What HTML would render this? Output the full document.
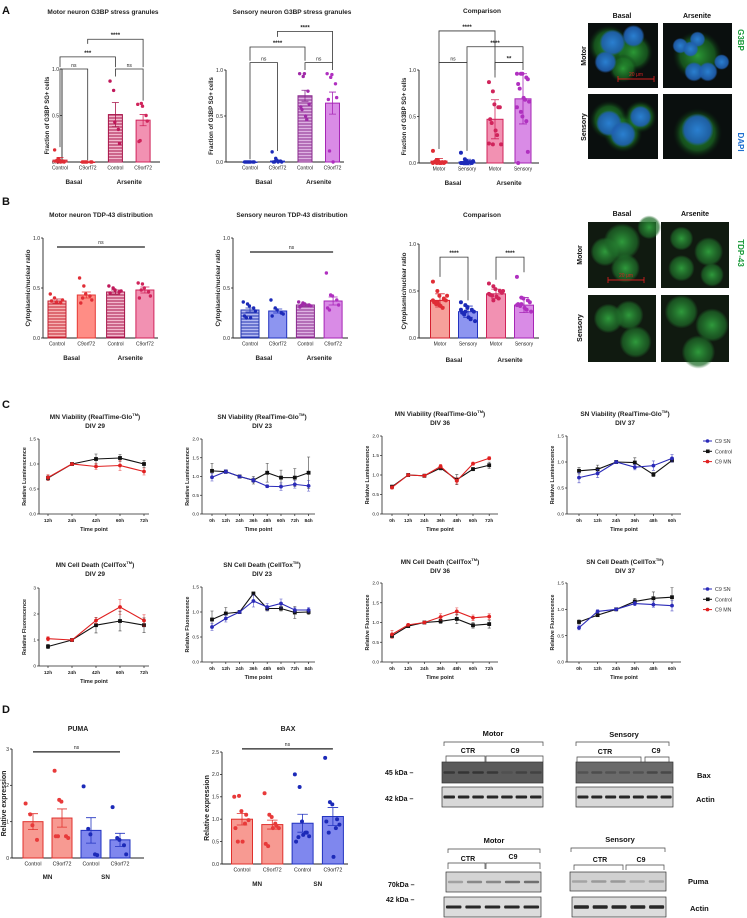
<!DOCTYPE html>
<html><head><meta charset="utf-8"><style>
html,body{margin:0;padding:0;background:#fff;}
svg{display:block;font-family:"Liberation Sans",sans-serif;}
</style></head><body>
<svg id="fig" width="747" height="918" viewBox="0 0 747 918" xmlns="http://www.w3.org/2000/svg">
<defs>
<pattern id="h-red" width="4" height="3" patternUnits="userSpaceOnUse"><rect width="4" height="3" fill="#f6b2b2"/><line x1="0" y1="1" x2="4" y2="1" stroke="#c62030" stroke-width="1"/></pattern>
<pattern id="h-mag" width="4" height="3" patternUnits="userSpaceOnUse"><rect width="4" height="3" fill="#f2b7cc"/><line x1="0" y1="1" x2="4" y2="1" stroke="#a8154a" stroke-width="1"/></pattern>
<pattern id="h-blue" width="4" height="3" patternUnits="userSpaceOnUse"><rect width="4" height="3" fill="#b4baf2"/><line x1="0" y1="1" x2="4" y2="1" stroke="#2233b0" stroke-width="1"/></pattern>
<pattern id="h-pur" width="4" height="3" patternUnits="userSpaceOnUse"><rect width="4" height="3" fill="#ddb2e2"/><line x1="0" y1="1" x2="4" y2="1" stroke="#8a2a8e" stroke-width="1"/></pattern>
<radialGradient id="g-green"><stop offset="0" stop-color="#2fa83a" stop-opacity="0.9"/><stop offset="0.7" stop-color="#1d7a26" stop-opacity="0.6"/><stop offset="1" stop-color="#0a2a10" stop-opacity="0"/></radialGradient>
<radialGradient id="g-blue"><stop offset="0" stop-color="#2a7fd0"/><stop offset="0.8" stop-color="#1f5fb0" stop-opacity="0.9"/><stop offset="1" stop-color="#1f5fb0" stop-opacity="0"/></radialGradient>
<radialGradient id="g-tdp"><stop offset="0" stop-color="#2f9a3c"/><stop offset="0.8" stop-color="#1e6a28" stop-opacity="0.7"/><stop offset="1" stop-color="#1e6a28" stop-opacity="0"/></radialGradient>
</defs>
</svg>
<script>
// ---------- DATA ----------
const catCtrlC9 = ["Control","C9orf72","Control","C9orf72"];
const catMotorSensory = ["Motor","Sensory","Motor","Sensory"];
const groupBA = ["Basal","Arsenite"];
const groupMNSN = ["MN","SN"];

const a1Means = [0.02, 0.0, 0.51, 0.45];
const a1Errs = [0.03, 0.0, 0.13, 0.06];
const a1Pts0 = [0.13,0.03,0.02,0.01,0.0,0.01,0.02,0.0];
const a1Pts1 = [0,0,0,0,0,0,0];
const a1Pts2 = [0.87,0.77,0.43,0.35,0.2];
const a1Pts3 = [0.62,0.63,0.6,0.5,0.44,0.22,0.23];

const a2Means = [0.0, 0.01, 0.72, 0.64];
const a2Errs = [0.0, 0.01, 0.06, 0.12];
const a2Pts0 = [0,0,0,0,0,0,0,0];
const a2Pts1 = [0.11,0.04,0.02,0.01,0,0,0,0];
const a2Pts2 = [0.96,0.93,0.96,0.77,0.63,0.6,0.57,0.5,0.46];
const a2Pts3 = [0.96,0.92,0.95,0.85,0.7,0.68,0.12,0.0];

const a3Means = [0.02, 0.01, 0.47, 0.69];
const a3Errs = [0.03, 0.03, 0.21, 0.27];
const a3Pts0 = [0.13,0.03,0.02,0.01,0,0.01,0.02,0,0,0.01,0,0];
const a3Pts1 = [0.11,0.04,0.02,0.01,0,0,0,0,0.01,0.02,0,0];
const a3Pts2 = [0.87,0.77,0.63,0.6,0.6,0.47,0.43,0.35,0.3,0.2,0.21,0.2];
const a3Pts3 = [0.96,0.96,0.96,0.92,0.9,0.85,0.8,0.7,0.68,0.66,0.6,0.55,0.5,0.45,0.12,0.0];

const b1Means = [0.37, 0.43, 0.46, 0.48];
const b1Errs = [0.02, 0.03, 0.02, 0.03];
const b1Pts0 = [0.44,0.4,0.36,0.35,0.38,0.37];
const b1Pts1 = [0.6,0.52,0.44,0.42,0.38,0.35,0.4];
const b1Pts2 = [0.52,0.5,0.48,0.46,0.47,0.45];
const b1Pts3 = [0.55,0.54,0.5,0.46,0.42,0.4,0.48];

const b2Means = [0.28, 0.27, 0.33, 0.37];
const b2Errs = [0.02, 0.02, 0.01, 0.04];
const b2Pts0 = [0.36,0.34,0.32,0.3,0.27,0.22,0.2,0.2];
const b2Pts1 = [0.38,0.3,0.28,0.25,0.24,0.22];
const b2Pts2 = [0.36,0.35,0.34,0.33,0.32,0.31,0.33];
const b2Pts3 = [0.65,0.43,0.42,0.38,0.33,0.3,0.28];

const b3Means = [0.40, 0.28, 0.47, 0.35];
const b3Errs = [0.07, 0.06, 0.05, 0.08];
const b3Pts0 = [0.6,0.5,0.45,0.42,0.4,0.38,0.36,0.34,0.32,0.45,0.4,0.38,0.35,0.41];
const b3Pts1 = [0.38,0.35,0.32,0.3,0.28,0.27,0.25,0.22,0.2,0.18,0.3,0.28,0.33];
const b3Pts2 = [0.58,0.55,0.52,0.5,0.48,0.46,0.45,0.44,0.42,0.5,0.47,0.4];
const b3Pts3 = [0.65,0.43,0.42,0.4,0.38,0.36,0.34,0.32,0.3,0.28,0.35,0.36];

const dPumaMeans = [1.0, 1.1, 0.76, 0.5];
const dPumaErrs = [0.22, 0.25, 0.35, 0.18];
const dPumaPts0 = [1.5,1.2,0.9,0.5];
const dPumaPts1 = [2.4,1.6,1.55,0.6,0.55,0.6,0.6];
const dPumaPts2 = [1.97,0.8,0.65,0.1,0.08];
const dPumaPts3 = [1.4,0.55,0.5,0.35,0.1];

const dBaxMeans = [1.0, 0.88, 0.91, 1.06];
const dBaxErrs = [0.13, 0.1, 0.2, 0.2];
const dBaxPts0 = [1.5,1.52,1.18,1.1,0.98,0.8,0.5,0.5,0.9];
const dBaxPts1 = [1.58,1.1,1.05,0.85,0.8,0.45,0.4,0.8,0.9];
const dBaxPts2 = [2.0,1.72,0.95,0.7,0.62,0.5,0.6,0.65,0.7];
const dBaxPts3 = [2.37,1.38,1.33,1.0,0.88,0.95,0.7,0.16,0.8];

const tMN29 = ["12h","24h","42h","60h","72h"];
const tSN23 = ["0h","12h","24h","36h","48h","60h","72h","84h"];
const tMN36 = ["0h","12h","24h","36h","48h","60h","72h"];
const tSN37 = ["0h","12h","24h","36h","48h","60h"];

const c1Ctrl = [0.72,1.0,1.1,1.12,1.0];
const c1CtrlErr = [0.05,0.02,0.1,0.07,0.07];
const c1C9 = [0.73,1.0,0.95,0.97,0.85];
const c1C9Err = [0.06,0.02,0.06,0.1,0.07];

const c2Ctrl = [1.15,1.13,1.0,0.9,1.1,0.97,0.97,1.1];
const c2CtrlErr = [0.2,0.05,0.02,0.1,0.25,0.2,0.24,0.42];
const c2SN = [0.98,1.13,1.0,0.9,0.74,0.73,0.79,0.75];
const c2SNErr = [0.1,0.05,0.02,0.06,0.04,0.1,0.1,0.14];

const c3Ctrl = [0.7,1.0,0.98,1.18,0.88,1.15,1.25];
const c3CtrlErr = [0.04,0.02,0.04,0.05,0.13,0.04,0.08];
const c3C9 = [0.68,1.0,0.98,1.22,0.85,1.29,1.43];
const c3C9Err = [0.04,0.02,0.03,0.05,0.08,0.04,0.04];

const c4Ctrl = [0.83,0.86,1.0,0.99,0.76,1.03];
const c4CtrlErr = [0.06,0.08,0.02,0.09,0.04,0.03];
const c4SN = [0.7,0.78,1.0,0.9,0.93,1.07];
const c4SNErr = [0.1,0.08,0.02,0.05,0.09,0.07];

const c5Ctrl = [0.75,1.0,1.57,1.73,1.57];
const c5CtrlErr = [0.08,0.03,0.3,0.38,0.28];
const c5C9 = [1.05,1.0,1.75,2.27,1.75];
const c5C9Err = [0.08,0.03,0.12,0.28,0.22];

const c6Ctrl = [0.85,0.97,1.0,1.37,1.07,1.07,0.99,1.0];
const c6CtrlErr = [0.17,0.12,0.02,0.03,0.05,0.05,0.12,0.05];
const c6SN = [0.7,0.87,1.0,1.22,1.1,1.17,1.04,1.04];
const c6SNErr = [0.07,0.07,0.02,0.12,0.07,0.09,0.05,0.05];

const c7Ctrl = [0.66,0.91,1.0,1.03,1.09,0.93,0.96];
const c7CtrlErr = [0.04,0.03,0.02,0.05,0.12,0.07,0.1];
const c7C9 = [0.7,0.94,1.0,1.14,1.28,1.12,1.15];
const c7C9Err = [0.1,0.03,0.02,0.08,0.09,0.07,0.07];

const c8Ctrl = [0.76,0.89,1.0,1.15,1.21,1.23];
const c8CtrlErr = [0.04,0.02,0.02,0.06,0.12,0.18];
const c8SN = [0.65,0.96,1.0,1.11,1.09,1.07];
const c8SNErr = [0.04,0.03,0.02,0.04,0.05,0.1];

// ---------- HELPERS ----------
const NS = "http://www.w3.org/2000/svg";
const svg = document.getElementById('fig');
function mk(tag, attrs, parent){
  const e = document.createElementNS(NS, tag);
  for (const k in attrs) e.setAttribute(k, attrs[k]);
  (parent || svg).appendChild(e);
  return e;
}
function tx(x, y, s, size, opt, parent){
  opt = opt || {};
  const e = mk('text', {x:x, y:y, 'font-size':size, 'text-anchor':opt.anchor||'middle', fill:opt.fill||'#222', 'font-weight':opt.bold?'bold':'normal'}, parent);
  if (opt.rot) e.setAttribute('transform', 'rotate(' + opt.rot + ' ' + x + ' ' + y + ')');
  e.textContent = s;
  return e;
}
function grp(name){
  const g = mk('g', {});
  
  
  return g;
}

function barChart(name, ax, means, errs, pts, style, labels, groups, brackets, lines){
  const g = grp(name);
  const ys = v => ax.yBot - v / ax.ymax * (ax.yBot - ax.yTop);
  const xc = i => ax.x + ax.first + i * ax.spacing;
  const t = tx(ax.titleX, ax.titleY, ax.title, ax.titleSize || 6.5, {bold:true}, g);
  
  
  const ya = mk('line', {x1:ax.x, y1:ax.yTop, x2:ax.x, y2:ax.yBot, stroke:'#222', 'stroke-width':0.9}, g);
  
  
  const xa = mk('line', {x1:ax.x, y1:ax.yBot, x2:ax.x + ax.len, y2:ax.yBot, stroke:'#222', 'stroke-width':0.9}, g);
  
  
  ax.ticks.forEach((v, k) => {
    mk('line', {x1:ax.x - 2, y1:ys(v), x2:ax.x, y2:ys(v), stroke:'#222', 'stroke-width':0.8}, g);
    const tl = tx(ax.x - 3, ys(v) + 1.8, ax.tickLabels[k], 5, {anchor:'end'}, g);
    
    
  });
  const ylx = ax.ylabelX !== undefined ? ax.ylabelX : ax.x - 13;
  const yt = tx(ylx, (ax.yTop + ax.yBot) / 2, ax.ylabel, ax.ylabelSize || 6, {rot:-90, bold:true}, g);
  
  
  means.forEach((m, i) => {
    const cx = xc(i), st = style[i];
    const b = mk('rect', {x:cx - ax.bw/2, y:ys(m), width:ax.bw, height:Math.max(0.5, ax.yBot - ys(m)), fill:st.fill, stroke:st.stroke, 'stroke-width':1}, g);
    
    
    const e = mk('path', {d:'M'+cx+' '+ys(m - errs[i])+'V'+ys(m + errs[i])+'M'+(cx-ax.bw/4)+' '+ys(m+errs[i])+'H'+(cx+ax.bw/4)+'M'+(cx-ax.bw/4)+' '+ys(m-errs[i])+'H'+(cx+ax.bw/4), stroke:st.err || st.stroke, 'stroke-width':0.8, fill:'none'}, g);
    
    
    pts[i].forEach((v, j) => {
      const off = ((j % 5) - 2) * ax.bw * 0.17 + (j % 2 ? 0.6 : -0.6);
      const p = mk('circle', {cx:cx + off, cy:ys(v), r:ax.pr || 1.7, fill:st.pt}, g);
      
      
    });
    const l = tx(cx, ax.yBot + 7.5, labels[i], ax.catSize || 5, {}, g);
    
    
  });
  groups.forEach((s, k) => {
    const gx = (xc(2*k) + xc(2*k+1)) / 2;
    const gl = tx(gx, ax.yBot + ax.groupDy, s, 6.3, {bold:true}, g);
    
    
  });
  (brackets || []).forEach(bk => {
    const [i, j, top, l1, l2, lab] = bk;
    const br = mk('path', {d:'M'+xc(i)+' '+ys(l1)+'V'+ys(top)+'H'+xc(j)+'V'+ys(l2), stroke:'#333', 'stroke-width':0.8, fill:'none'}, g);
    
    
    const bl = tx((xc(i)+xc(j))/2, ys(top) - 2, lab, lab === 'ns' ? 5 : 6, {bold: lab !== 'ns'}, g);
    
    
  });
  (lines || []).forEach(ln => {
    const [i, j, y, lab] = ln;
    const sl = mk('line', {x1:xc(i), y1:ys(y), x2:xc(j), y2:ys(y), stroke:'#222', 'stroke-width':1.2}, g);
    
    
    const sll = tx((xc(i)+xc(j))/2, ys(y) - 3, lab, 5, {}, g);
    
    
  });
}

function lineChart(name, ax, xlabels, series){
  const g = grp(name);
  const ys = v => ax.yBot - v / ax.ymax * (ax.yBot - ax.yTop);
  const xc = i => ax.x + ax.first + i * ax.spacing;
  const t1 = tx(ax.titleX, ax.titleY, ax.title, 6.5, {bold:true}, g);
  
  
  const sup = mk('tspan', {'font-size':4, dy:-3}, t1); sup.textContent = 'TM';
  const sup2 = mk('tspan', {dy:3}, t1); sup2.textContent = ')';
  const t2 = tx(ax.titleX, ax.titleY + 9, ax.sub, 6.5, {bold:true}, g);
  
  
  const ya = mk('line', {x1:ax.x, y1:ax.yTop, x2:ax.x, y2:ax.yBot, stroke:'#222', 'stroke-width':0.8}, g);
  
  
  const xa = mk('line', {x1:ax.x, y1:ax.yBot, x2:ax.x + ax.len, y2:ax.yBot, stroke:'#222', 'stroke-width':0.8}, g);
  
  
  ax.ticks.forEach((v, k) => {
    mk('line', {x1:ax.x - 2, y1:ys(v), x2:ax.x, y2:ys(v), stroke:'#222', 'stroke-width':0.7}, g);
    const tl = tx(ax.x - 3, ys(v) + 1.7, ax.tickLabels[k], 4.8, {anchor:'end'}, g);
    
    
  });
  xlabels.forEach((s, i) => {
    mk('line', {x1:xc(i), y1:ax.yBot, x2:xc(i), y2:ax.yBot + 2, stroke:'#222', 'stroke-width':0.7}, g);
    const xl = tx(xc(i), ax.yBot + 8, s, 4.8, {bold:true}, g);
    
    
  });
  const xt = tx(ax.x + ax.len/2, ax.yBot + 17, 'Time point', 5.5, {bold:true}, g);
  
  
  const yt = tx(ax.x - 13, (ax.yTop + ax.yBot)/2, ax.ylabel, 5.3, {rot:-90, bold:true}, g);
  
  
  series.forEach(s => {
    const sg = mk('g', {}, g);
    
    
    s.vals.forEach((v, i) => {
      mk('path', {d:'M'+xc(i)+' '+ys(v - s.errs[i])+'V'+ys(v + s.errs[i])+'M'+(xc(i)-1.5)+' '+ys(v+s.errs[i])+'h3M'+(xc(i)-1.5)+' '+ys(v-s.errs[i])+'h3', stroke:s.color, 'stroke-width':0.6, fill:'none', opacity:0.8}, sg);
    });
    const line = mk('polyline', {points:s.vals.map((v, i) => xc(i) + ',' + ys(v)).join(' '), fill:'none', stroke:s.color, 'stroke-width':1.1}, sg);
    
    
    s.vals.forEach((v, i) => {
      let m;
      if (s.marker === 'sq') m = mk('rect', {x:xc(i) - 1.9, y:ys(v) - 1.9, width:3.8, height:3.8, fill:s.color}, sg);
      else m = mk('circle', {cx:xc(i), cy:ys(v), r:1.9, fill:s.color}, sg);
      
      
    });
  });
}

function legend(x, y){
  const g = grp('legend');
  const items = [['C9 SN','#2a2ab8','c'],['Control','#111','s'],['C9 MN','#e02020','c']];
  items.forEach((it, k) => {
    const yy = y + k * 10.3;
    const en = mk('g', {}, g);
    
    
    mk('line', {x1:x, y1:yy, x2:x + 9, y2:yy, stroke:it[1], 'stroke-width':1}, en);
    if (it[2] === 's') mk('rect', {x:x + 3, y:yy - 1.8, width:3.6, height:3.6, fill:it[1]}, en);
    else mk('circle', {cx:x + 4.5, cy:yy, r:1.8, fill:it[1]}, en);
    tx(x + 12, yy + 2, it[0], 5.3, {anchor:'start', fill:'#333'}, en);
  });
}

function micro(name, x, y, w, h, kind){
  const g = grp(name);
  mk('rect', {x:x, y:y, width:w, height:h, fill: kind.startsWith('tdp') ? '#101a10' : '#0a0f0e'}, g);
  const blobs = {
    g1:[[0.3,0.35,0.32,'g-green'],[0.65,0.45,0.3,'g-green'],[0.35,0.3,0.2,'g-blue'],[0.65,0.2,0.17,'g-blue'],[0.5,0.7,0.22,'g-green'],[0.25,0.6,0.17,'g-blue']],
    g2:[[0.5,0.5,0.38,'g-green'],[0.5,0.25,0.12,'g-blue'],[0.25,0.35,0.12,'g-blue'],[0.4,0.4,0.12,'g-blue'],[0.45,0.75,0.15,'g-blue'],[0.65,0.75,0.15,'g-blue'],[0.85,0.6,0.12,'g-blue']],
    g3:[[0.3,0.4,0.3,'g-green'],[0.5,0.6,0.3,'g-green'],[0.75,0.35,0.25,'g-green'],[0.3,0.45,0.2,'g-blue'],[0.5,0.62,0.2,'g-blue'],[0.75,0.35,0.17,'g-blue']],
    g4:[[0.5,0.6,0.38,'g-green'],[0.5,0.55,0.25,'g-blue']],
    tdp1:[[0.55,0.7,0.22,'g-tdp'],[0.25,0.45,0.22,'g-tdp'],[0.9,0.08,0.18,'g-tdp'],[0.5,0.3,0.28,'g-tdp']],
    tdp2:[[0.3,0.25,0.18,'g-tdp'],[0.7,0.45,0.22,'g-tdp'],[0.3,0.7,0.2,'g-tdp'],[0.75,0.8,0.18,'g-tdp']],
    tdp3:[[0.3,0.35,0.22,'g-tdp'],[0.6,0.3,0.22,'g-tdp'],[0.7,0.7,0.24,'g-tdp']],
    tdp4:[[0.3,0.25,0.25,'g-tdp'],[0.75,0.45,0.25,'g-tdp'],[0.55,0.85,0.25,'g-tdp']]
  }[kind];
  blobs.forEach(b => mk('circle', {cx:x + b[0]*w, cy:y + b[1]*h, r:b[2]*Math.min(w,h), fill:'url(#'+b[3]+')'}, g));
}

function blot(name, x, y, w, h, n, bg, band, bandW, bandOp){
  const g = grp(name);
  mk('rect', {x:x, y:y, width:w, height:h, fill:bg, stroke:'#333', 'stroke-width':0.7}, g);
  for (let i = 0; i < n; i++){
    const cx = x + (i + 0.5) * w / n;
    mk('rect', {x:cx - w/n*0.4, y:y + h/2 - bandW/2, width:w/n*0.8, height:bandW, rx:1, fill:band, opacity:bandOp[i % bandOp.length]}, g);
  }
}
function brace(x1, x2, y, h){
  const p = mk('path', {d:'M'+x1+' '+(y+h)+'V'+y+'H'+x2+'V'+(y+h), fill:'none', stroke:'#444', 'stroke-width':0.7});
  
  
}

// ---------- PANEL LETTERS ----------
[['A',2,14],['B',2,205],['C',2,408],['D',2,713]].forEach(p => {
  const e = tx(p[1], p[2], p[0], 11, {anchor:'start', bold:true, fill:'#111'});
  
  
});

const redS = {fill:'#f6a09a', stroke:'#d42030', pt:'#e02d35'};
const blueS = {fill:'#8d95f0', stroke:'#2233c0', pt:'#1c2ab8'};
const magH = {fill:'url(#h-mag)', stroke:'#a8154a', pt:'#c0185a'};
const magS = {fill:'#f291b2', stroke:'#d0245b', pt:'#d0245b'};
const purH = {fill:'url(#h-pur)', stroke:'#8a2a8e', pt:'#a02aa8'};
const purS = {fill:'#d98be6', stroke:'#a626b6', pt:'#b030c0'};

// ---------- PANEL A ----------
barChart('chart-a-motor-g3bp',
  {x:62, yTop:69, yBot:162, ymax:1, len:98, first:-2, spacing:27.7, bw:14, ticks:[0,0.5,1], tickLabels:['0.0','0.5','1.0'],
   title:'Motor neuron G3BP stress granules', titleX:103, titleY:14, ylabel:'Fraction of G3BP SG+ cells', groupDy:22},
  a1Means, a1Errs, [a1Pts0,a1Pts1,a1Pts2,a1Pts3], [redS, redS, magH, magS], catCtrlC9, groupBA,
  [[0,1,1.0,0.16,0.02,'ns'],[2,3,1.0,0.92,0.66,'ns'],[0,2,1.13,1.02,1.02,'***'],[1,3,1.32,1.27,1.02,'****']]);

barChart('chart-a-sensory-g3bp',
  {x:226, yTop:70, yBot:162, ymax:1, len:118, first:24, spacing:27.5, bw:14, ticks:[0,0.5,1], tickLabels:['0.0','0.5','1.0'],
   title:'Sensory neuron G3BP stress granules', titleX:292, titleY:14, ylabel:'Fraction of G3BP SG+ cells', groupDy:22},
  a2Means, a2Errs, [a2Pts0,a2Pts1,a2Pts2,a2Pts3], [blueS, blueS, purH, purS], catCtrlC9, groupBA,
  [[0,1,1.08,0.03,0.12,'ns'],[2,3,1.08,1.0,1.0,'ns'],[0,2,1.25,1.1,1.1,'****'],[1,3,1.42,1.36,1.08,'****']]);

barChart('chart-a-comparison',
  {x:419, yTop:70, yBot:163, ymax:1, len:120, first:20, spacing:28, bw:16, ticks:[0,0.5,1], tickLabels:['0.0','0.5','1.0'],
   title:'Comparison', titleX:482, titleY:13, ylabel:'Fraction of G3BP SG+ cells', groupDy:22, pr:2},
  a3Means, a3Errs, [a3Pts0,a3Pts1,a3Pts2,a3Pts3], [redS, blueS, magS, purS], catMotorSensory, groupBA,
  [[0,1,1.08,0.15,0.13,'ns'],[2,3,1.08,0.92,1.0,'**'],[1,3,1.25,1.08,1.08,'****'],[0,2,1.42,1.08,1.0,'****']]);

micro('image-a-motor-basal', 588, 23, 70, 65, 'g1');
micro('image-a-motor-arsenite', 663, 23, 69, 65, 'g2');
micro('image-a-sensory-basal', 588, 94, 70, 65, 'g3');
micro('image-a-sensory-arsenite', 663, 94, 69, 65, 'g4');
(function(){
  const s = mk('path', {d:'M618 79H654M618 76V82M654 76V82', stroke:'#d02020', 'stroke-width':0.9, fill:'none'});
  
  
  tx(636, 76, '20 μm', 5, {fill:'#d02020'});
  const l = [['Basal',622,18,0],['Arsenite',697,18,0],['Motor',586,56,-90],['Sensory',586,127,-90]];
  l.forEach(q => { const e = tx(q[1], q[2], q[0], 7, {bold:true, rot:q[3]||0, fill:'#111'});   });
  const g3 = tx(738, 40, 'G3BP', 8, {bold:true, rot:90, fill:'#1a9a3a'});
  
  
  const da = tx(738, 142, 'DAPI', 8, {bold:true, rot:90, fill:'#1f6fd0'});
  
  
})();

// ---------- PANEL B ----------
barChart('chart-b-motor-tdp43',
  {x:43, yTop:238, yBot:338, ymax:1, len:115, first:14, spacing:29.3, bw:18, ticks:[0,0.5,1], tickLabels:['0.0','0.5','1.0'],
   title:'Motor neuron TDP-43 distribution', titleX:101, titleY:217, ylabel:'Cytoplasmic/nuclear ratio', groupDy:22, ylabelSize:6.3},
  b1Means, b1Errs, [b1Pts0,b1Pts1,b1Pts2,b1Pts3], [{fill:'url(#h-red)', stroke:'#c62030', pt:'#e02d35'}, {fill:'#ff8d85', stroke:'#e53935', pt:'#e02d35'}, magH, magS], catCtrlC9, groupBA,
  [], [[0,3,0.91,'ns']]);

barChart('chart-b-sensory-tdp43',
  {x:233, yTop:238, yBot:338, ymax:1, len:115, first:17, spacing:27.7, bw:18, ticks:[0,0.5,1], tickLabels:['0.0','0.5','1.0'],
   title:'Sensory neuron TDP-43 distribution', titleX:292, titleY:217, ylabel:'Cytoplasmic/nuclear ratio', groupDy:22, ylabelSize:6.3},
  b2Means, b2Errs, [b2Pts0,b2Pts1,b2Pts2,b2Pts3], [{fill:'url(#h-blue)', stroke:'#2233b0', pt:'#1c2ab8'}, blueS, purH, purS], catCtrlC9, groupBA,
  [], [[0,3,0.86,'ns']]);

barChart('chart-b-comparison',
  {x:419, yTop:244, yBot:338, ymax:1, len:120, first:21, spacing:28, bw:19, ticks:[0,0.5,1], tickLabels:['0.0','0.5','1.0'],
   title:'Comparison', titleX:482, titleY:217, ylabel:'Cytoplasmic/nuclear ratio', groupDy:24, ylabelSize:6.3, pr:2},
  b3Means, b3Errs, [b3Pts0,b3Pts1,b3Pts2,b3Pts3], [redS, blueS, magS, purS], catMotorSensory, groupBA,
  [[0,1,0.86,0.65,0.4,'****'],[2,3,0.86,0.62,0.7,'****']]);

micro('image-b-motor-basal', 588, 222, 68, 66, 'tdp1');
micro('image-b-motor-arsenite', 661, 222, 68, 66, 'tdp2');
micro('image-b-sensory-basal', 588, 295, 68, 67, 'tdp3');
micro('image-b-sensory-arsenite', 661, 295, 68, 67, 'tdp4');
(function(){
  const s = mk('path', {d:'M608 280H644M608 277V283M644 277V283', stroke:'#d02020', 'stroke-width':0.9, fill:'none'});
  
  
  tx(626, 277, '20 μm', 5, {fill:'#d02020'});
  const l = [['Basal',622,216,0],['Arsenite',695,216,0],['Motor',582,255,-90],['Sensory',582,328,-90]];
  l.forEach(q => { const e = tx(q[1], q[2], q[0], 7, {bold:true, rot:q[3]||0, fill:'#111'});   });
  const t = tx(738, 253, 'TDP-43', 8, {bold:true, rot:90, fill:'#1a9a3a'});
  
  
})();

// ---------- PANEL C ----------
const K = '#111', RED = '#e02020', BLU = '#2a2ab8';
lineChart('chart-c-mn-viability-div29',
  {x:39, yTop:439, yBot:514, ymax:1.5, len:110, first:9, spacing:24, ticks:[0,0.5,1,1.5], tickLabels:['0.0','0.5','1.0','1.5'],
   title:'MN Viability (RealTime-Glo', sub:'DIV 29', titleX:95, titleY:419, ylabel:'Relative Luminescence'},
  tMN29, [{name:'series-control', vals:c1Ctrl, errs:c1CtrlErr, color:K, marker:'sq'}, {name:'series-c9-mn', vals:c1C9, errs:c1C9Err, color:RED, marker:'c'}]);
lineChart('chart-c-sn-viability-div23',
  {x:202, yTop:439, yBot:514, ymax:2, len:113, first:10, spacing:13.8, ticks:[0,0.5,1,1.5,2], tickLabels:['0.0','0.5','1.0','1.5','2.0'],
   title:'SN Viability (RealTime-Glo', sub:'DIV 23', titleX:262, titleY:419, ylabel:'Relative Luminescence'},
  tSN23, [{name:'series-control', vals:c2Ctrl, errs:c2CtrlErr, color:K, marker:'sq'}, {name:'series-c9-sn', vals:c2SN, errs:c2SNErr, color:BLU, marker:'c'}]);
lineChart('chart-c-mn-viability-div36',
  {x:382, yTop:436, yBot:514, ymax:2, len:116, first:10, spacing:16.2, ticks:[0,0.5,1,1.5,2], tickLabels:['0.0','0.5','1.0','1.5','2.0'],
   title:'MN Viability (RealTime-Glo', sub:'DIV 36', titleX:440, titleY:416, ylabel:'Relative Luminescence'},
  tMN36, [{name:'series-control', vals:c3Ctrl, errs:c3CtrlErr, color:K, marker:'sq'}, {name:'series-c9-mn', vals:c3C9, errs:c3C9Err, color:RED, marker:'c'}]);
lineChart('chart-c-sn-viability-div37',
  {x:567, yTop:436, yBot:514, ymax:1.5, len:114, first:12, spacing:18.6, ticks:[0,0.5,1,1.5], tickLabels:['0.0','0.5','1.0','1.5'],
   title:'SN Viability (RealTime-Glo', sub:'DIV 37', titleX:625, titleY:416, ylabel:'Relative Luminescence'},
  tSN37, [{name:'series-control', vals:c4Ctrl, errs:c4CtrlErr, color:K, marker:'sq'}, {name:'series-c9-sn', vals:c4SN, errs:c4SNErr, color:BLU, marker:'c'}]);
legend(703, 441);

lineChart('chart-c-mn-celldeath-div29',
  {x:39, yTop:588, yBot:666, ymax:3, len:110, first:9, spacing:24, ticks:[0,1,2,3], tickLabels:['0','1','2','3'],
   title:'MN Cell Death (CellTox', sub:'DIV 29', titleX:95, titleY:567, ylabel:'Relative Fluorescence'},
  tMN29, [{name:'series-control', vals:c5Ctrl, errs:c5CtrlErr, color:K, marker:'sq'}, {name:'series-c9-mn', vals:c5C9, errs:c5C9Err, color:RED, marker:'c'}]);
lineChart('chart-c-sn-celldeath-div23',
  {x:202, yTop:587, yBot:662, ymax:1.5, len:113, first:10, spacing:13.8, ticks:[0,0.5,1,1.5], tickLabels:['0.0','0.5','1.0','1.5'],
   title:'SN Cell Death (CellTox', sub:'DIV 23', titleX:262, titleY:567, ylabel:'Relative Fluorescence'},
  tSN23, [{name:'series-control', vals:c6Ctrl, errs:c6CtrlErr, color:K, marker:'sq'}, {name:'series-c9-sn', vals:c6SN, errs:c6SNErr, color:BLU, marker:'c'}]);
lineChart('chart-c-mn-celldeath-div36',
  {x:382, yTop:583, yBot:662, ymax:2, len:116, first:10, spacing:16.2, ticks:[0,0.5,1,1.5,2], tickLabels:['0.0','0.5','1.0','1.5','2.0'],
   title:'MN Cell Death (CellTox', sub:'DIV 36', titleX:440, titleY:564, ylabel:'Relative Fluorescence'},
  tMN36, [{name:'series-control', vals:c7Ctrl, errs:c7CtrlErr, color:K, marker:'sq'}, {name:'series-c9-mn', vals:c7C9, errs:c7C9Err, color:RED, marker:'c'}]);
lineChart('chart-c-sn-celldeath-div37',
  {x:567, yTop:583, yBot:662, ymax:1.5, len:114, first:12, spacing:18.6, ticks:[0,0.5,1,1.5], tickLabels:['0.0','0.5','1.0','1.5'],
   title:'SN Cell Death (CellTox', sub:'DIV 37', titleX:625, titleY:564, ylabel:'Relative Fluorescence'},
  tSN37, [{name:'series-control', vals:c8Ctrl, errs:c8CtrlErr, color:K, marker:'sq'}, {name:'series-c9-sn', vals:c8SN, errs:c8SNErr, color:BLU, marker:'c'}]);
legend(703, 589);

// ---------- PANEL D ----------
const dRed = {fill:'#f79a92', stroke:'#e0302c', pt:'#e83a3a'};
const dBlue = {fill:'#7f87ee', stroke:'#2233c0', pt:'#1c2ab8'};
barChart('chart-d-puma',
  {x:12, yTop:749, yBot:858, ymax:3, len:132, first:21, spacing:29, bw:20, ticks:[0,1,2,3], tickLabels:['0','1','2','3'],
   title:'PUMA', titleX:78, titleY:731, titleSize:7, ylabel:'Relative expression', ylabelX:6, groupDy:21, ylabelSize:7, catSize:5.3, pr:2},
  dPumaMeans, dPumaErrs, [dPumaPts0,dPumaPts1,dPumaPts2,dPumaPts3], [dRed, dRed, dBlue, dBlue], catCtrlC9, groupMNSN,
  [], [[0,3,2.92,'ns']]);
barChart('chart-d-bax',
  {x:222, yTop:752, yBot:864, ymax:2.5, len:126, first:20, spacing:30.3, bw:21, ticks:[0,0.5,1,1.5,2,2.5], tickLabels:['0.0','0.5','1.0','1.5','2.0','2.5'],
   title:'BAX', titleX:288, titleY:731, titleSize:7, ylabel:'Relative expression', groupDy:22, ylabelSize:7, catSize:5.3, pr:2},
  dBaxMeans, dBaxErrs, [dBaxPts0,dBaxPts1,dBaxPts2,dBaxPts3], [dRed, dRed, dBlue, dBlue], catCtrlC9, groupMNSN,
  [], [[0,3,2.57,'ns']]);

// western blots
(function(){
  const L = (x,y,s,sz,anchor,name) => { const e = tx(x,y,s,sz,{bold:true, anchor:anchor||'middle', fill:'#111'});   };
  L(493, 736, 'Motor', 7.5, 'middle', 'blot-title');
  L(624, 737, 'Sensory', 7.5, 'middle', 'blot-title');
  brace(444, 543, 742, 4); brace(446, 485, 756, 6); brace(486, 543, 756, 6);
  brace(576, 669, 742, 4); brace(577, 641, 757, 5); brace(645, 669, 757, 5);
  L(468, 753, 'CTR', 7, 'middle', 'blot-group-label'); L(515, 753, 'C9', 7, 'middle', 'blot-group-label');
  L(605, 754, 'CTR', 7, 'middle', 'blot-group-label'); L(656, 753, 'C9', 7, 'middle', 'blot-group-label');
  blot('blot-bax-motor', 442, 762, 101, 21, 7, '#5a5a5a', '#2a2a2a', 2.5, [0.7,0.8,0.8,0.7,0.2,0.5,0.5]);
  blot('blot-actin-motor', 442, 787, 101, 20, 7, '#d8d8d8', '#1e1e1e', 3, [0.95]);
  blot('blot-bax-sensory', 576, 762, 97, 21, 7, '#6a6a6a', '#3a3a3a', 2.5, [0.5,0.6,0.5,0.5,0.5,0.7,0.7]);
  blot('blot-actin-sensory', 576, 787, 97, 20, 7, '#d8d8d8', '#1e1e1e', 3, [0.95]);
  L(385, 775, '45 kDa –', 7, 'start', 'mw-label'); L(385, 801, '42 kDa –', 7, 'start', 'mw-label');
  L(697, 778, 'Bax', 7.5, 'start', 'blot-label'); L(696, 802, 'Actin', 7.5, 'start', 'blot-label');

  L(494, 843, 'Motor', 7.5, 'middle', 'blot-title');
  L(620, 842, 'Sensory', 7.5, 'middle', 'blot-title');
  brace(448, 540, 849, 4); brace(448, 485, 863, 6); brace(486, 540, 863, 6);
  brace(571, 665, 848, 4); brace(574, 623, 865, 5); brace(626, 664, 865, 5);
  L(468, 861, 'CTR', 7, 'middle', 'blot-group-label'); L(513, 859, 'C9', 7, 'middle', 'blot-group-label');
  L(600, 862, 'CTR', 7, 'middle', 'blot-group-label'); L(641, 862, 'C9', 7, 'middle', 'blot-group-label');
  blot('blot-puma-motor', 446, 872, 95, 20, 5, '#d4d4d4', '#555', 2.5, [0.4,0.6,0.6,0.8,0.8]);
  blot('blot-actin-motor-2', 444, 897, 97, 20, 5, '#dcdcdc', '#1e1e1e', 3, [0.95]);
  blot('blot-puma-sensory', 570, 872, 96, 19, 5, '#d0d0d0', '#777', 2.5, [0.5,0.6,0.6,0.4,0.5]);
  blot('blot-actin-sensory-2', 572, 897, 94, 20, 5, '#dcdcdc', '#1e1e1e', 3.5, [0.95]);
  L(388, 887, '70kDa –', 7, 'start', 'mw-label'); L(386, 902, '42 kDa –', 7, 'start', 'mw-label');
  L(688, 884, 'Puma', 7.5, 'start', 'blot-label'); L(690, 911, 'Actin', 7.5, 'start', 'blot-label');
})();
</script>
</body></html>
